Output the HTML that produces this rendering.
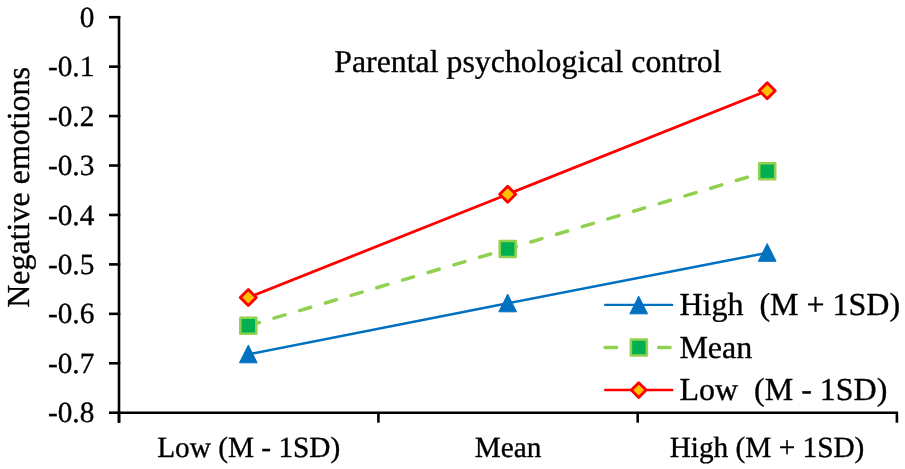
<!DOCTYPE html>
<html><head><meta charset="utf-8"><style>
html,body{margin:0;padding:0;background:#fff;width:905px;height:469px;overflow:hidden}
svg{display:block;will-change:transform}
text{font-family:"Liberation Serif",serif;fill:#000;text-rendering:geometricPrecision;stroke:#000;stroke-width:0.35px;white-space:pre}
</style></head><body>
<svg width="905" height="469" viewBox="0 0 905 469">
<g stroke="#000" stroke-width="2.6" fill="none">
<line x1="119" y1="15.9" x2="119" y2="422.7"/>
<line x1="117.7" y1="412.75" x2="898" y2="412.75"/>
<line x1="109" y1="17.20" x2="120.3" y2="17.20"/><line x1="109" y1="66.64" x2="120.3" y2="66.64"/><line x1="109" y1="116.08" x2="120.3" y2="116.08"/><line x1="109" y1="165.52" x2="120.3" y2="165.52"/><line x1="109" y1="214.96" x2="120.3" y2="214.96"/><line x1="109" y1="264.40" x2="120.3" y2="264.40"/><line x1="109" y1="313.84" x2="120.3" y2="313.84"/><line x1="109" y1="363.28" x2="120.3" y2="363.28"/><line x1="109" y1="412.72" x2="120.3" y2="412.72"/><line x1="119.00" y1="412.75" x2="119.00" y2="422.7"/><line x1="378.40" y1="412.75" x2="378.40" y2="422.7"/><line x1="637.70" y1="412.75" x2="637.70" y2="422.7"/><line x1="896.90" y1="412.75" x2="896.90" y2="422.7"/>
</g>
<g font-size="29.3" text-anchor="end"><text x="94.3" y="26.80">0</text><text x="94.3" y="76.24">-0.1</text><text x="94.3" y="125.68">-0.2</text><text x="94.3" y="175.12">-0.3</text><text x="94.3" y="224.56">-0.4</text><text x="94.3" y="274.00">-0.5</text><text x="94.3" y="323.44">-0.6</text><text x="94.3" y="372.88">-0.7</text><text x="94.3" y="422.32">-0.8</text></g>
<g font-size="29.3" text-anchor="middle">
<text x="248.7" y="456.6">Low (M - 1SD)</text>
<text x="508" y="456.6">Mean</text>
<text x="767" y="456.6">High (M + 1SD)</text>
</g>
<text font-size="31.85" x="334.2" y="71.7">Parental psychological control</text>
<text font-size="32" transform="translate(29.3,307.8) rotate(-90)">Negative emotions</text>
<polyline points="248.3,354.3 507.7,303.3 767.2,252.8" fill="none" stroke="#0070C0" stroke-width="2.5"/>
<polyline points="248.3,325.8 507.7,248.9 767.2,171.3" fill="none" stroke="#92D050" stroke-width="3.5" stroke-dasharray="11.5 15.3" stroke-linecap="round"/>
<polyline points="248.3,297.6 507.7,194.2 767.2,90.7" fill="none" stroke="#FF0000" stroke-width="2.8"/>
<g fill="#0070C0" stroke="#0070C0" stroke-width="1" stroke-linejoin="round"><path d="M248.30 345.10L257.15 362.80L239.45 362.80Z"/><path d="M507.70 294.10L516.55 311.80L498.85 311.80Z"/><path d="M767.20 243.60L776.05 261.30L758.35 261.30Z"/></g>
<g fill="#00B050" stroke="#92D050" stroke-width="2.55" stroke-linejoin="round"><rect x="240.30" y="317.80" width="16" height="16"/><rect x="499.70" y="240.90" width="16" height="16"/><rect x="759.20" y="163.30" width="16" height="16"/></g>
<g fill="#FFC000" stroke="#FF0000" stroke-width="2.8" stroke-linejoin="round"><path d="M248.30 289.60L256.30 297.60L248.30 305.60L240.30 297.60Z"/><path d="M507.70 186.20L515.70 194.20L507.70 202.20L499.70 194.20Z"/><path d="M767.20 82.70L775.20 90.70L767.20 98.70L759.20 90.70Z"/></g>
<line x1="605.2" y1="304.9" x2="672.1" y2="304.9" stroke="#0070C0" stroke-width="2.4" stroke-linecap="round"/>
<g fill="#0070C0" stroke="#0070C0" stroke-width="1" stroke-linejoin="round"><path d="M638.70 296.15L647.55 313.85L629.85 313.85Z"/></g>
<line x1="605.1" y1="347.5" x2="670.3" y2="347.5" stroke="#92D050" stroke-width="3.5" stroke-dasharray="11.5 42" stroke-linecap="round"/>
<g fill="#00B050" stroke="#92D050" stroke-width="2.55" stroke-linejoin="round"><rect x="630.90" y="339.40" width="16" height="16"/></g>
<line x1="605.2" y1="390.1" x2="672.2" y2="390.1" stroke="#FF0000" stroke-width="2.5" stroke-linecap="round"/>
<g fill="#FFC000" stroke="#FF0000" stroke-width="2.8" stroke-linejoin="round"><path d="M638.70 382.70L646.10 390.10L638.70 397.50L631.30 390.10Z"/></g>
<g font-size="32">
<text x="679.4" y="314.8" xml:space="preserve">High  (M + 1SD)</text>
<text x="679.4" y="357.7">Mean</text>
<text x="679.4" y="399.7" xml:space="preserve">Low  (M - 1SD)</text>
</g>
</svg>
</body></html>
